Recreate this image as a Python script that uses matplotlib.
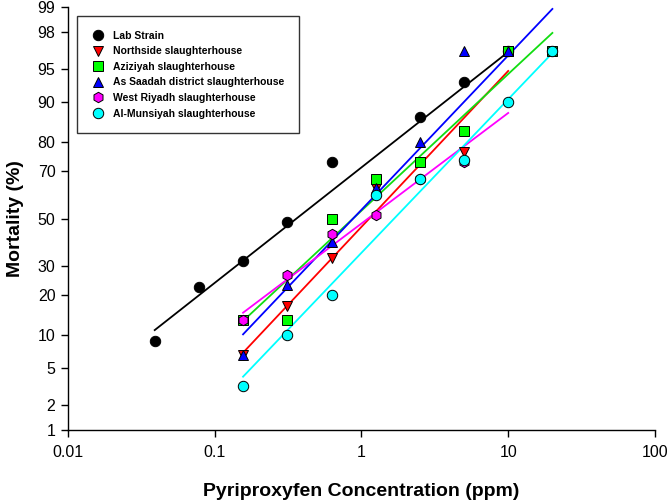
#!/usr/bin/env python3
"""Probit plot of mortality vs pyriproxyfen concentration for six strains."""

from statistics import NormalDist

import matplotlib

matplotlib.use("Agg")
import matplotlib.pyplot as plt
import numpy as np

nan = np.nan

CONC = [0.039, 0.078, 0.156, 0.3125, 0.625, 1.25, 2.5, 5, 10, 20]

LAB = [8.9, 22.5, 32.0, 48.5, 73.3, nan, 86.7, 93.3, 96.7, nan]
NORTHSIDE = [nan, nan, 6.7, 16.7, 33.3, 63.3, 73.3, 76.7, 96.7, nan]
AZIZIYAH = [nan, nan, 13.3, 13.3, 50.0, 66.7, 73.3, 83.3, 96.7, 96.7]
AS_SAADAH = [nan, nan, 6.7, 23.3, 40.0, 63.3, 80.0, 96.7, 96.7, nan]
WEST_RIYADH = [nan, nan, 13.3, 26.7, 43.3, 51.7, 66.7, 73.3, nan, nan]
AL_MUNSIYAH = [nan, nan, 3.3, 10.0, 20.0, 60.0, 66.7, 74.0, 90.0, 96.7]

# probit regression lines: probit = intercept + slope * log10(conc)
INTERCEPTS = [0.562, -0.092, 0.086, 0.096, -0.055, -0.377]
SLOPES = [1.270, 1.715, 1.503, 1.698, 1.216, 1.689]
FIT_RANGE = [(0.039, 10), (0.156, 10), (0.156, 20), (0.156, 20), (0.156, 10), (0.156, 20)]

LABELS = [
    "Lab Strain",
    "Northside slaughterhouse",
    "Aziziyah slaughterhouse",
    "As Saadah district slaughterhouse",
    "West Riyadh slaughterhouse",
    "Al-Munsiyah slaughterhouse",
]
SERIES = [LAB, NORTHSIDE, AZIZIYAH, AS_SAADAH, WEST_RIYADH, AL_MUNSIYAH]
MARKERS = ["o", "v", "s", "^", "h", "o"]
FACE = ["#000000", "#FF0000", "#00FF00", "#0000FF", "#FF00FF", "#00FFFF"]
LINE = ["#000000", "#FF0000", "#11DD11", "#0000FF", "#FF00FF", "#00FFFF"]

Y_TICKS = [1, 2, 5, 10, 20, 30, 50, 70, 80, 90, 95, 98, 99]

_nd = NormalDist()
_ppf = np.vectorize(_nd.inv_cdf, otypes=[float])
_cdf = np.vectorize(_nd.cdf, otypes=[float])


def _fwd(y):
    p = np.clip(np.asarray(y, dtype=float) / 100.0, 1e-9, 1 - 1e-9)
    return _ppf(p)


def _inv(z):
    return 100.0 * _cdf(np.asarray(z, dtype=float))


plt.rcParams.update(
    {
        "font.family": "sans-serif",
        "font.sans-serif": ["Liberation Sans", "DejaVu Sans"],
    }
)

fig = plt.figure(figsize=(6.69, 5.01), dpi=100)
ax = fig.add_axes([0.1016, 0.1417, 0.8774, 0.8443])
ax.set_xscale("log")
ax.set_yscale("function", functions=(_fwd, _inv))

for i, label in enumerate(LABELS):
    lo, hi = FIT_RANGE[i]
    xs = np.logspace(np.log10(lo), np.log10(hi), 20)
    ys = _inv(INTERCEPTS[i] + SLOPES[i] * np.log10(xs))
    ax.plot(xs, ys, color=LINE[i], lw=1.3, zorder=2)

handles = []
for i, label in enumerate(LABELS):
    h, = ax.plot(
        CONC,
        SERIES[i],
        linestyle="none",
        marker=MARKERS[i],
        markersize=7.5 if MARKERS[i] != "s" else 7,
        markerfacecolor=FACE[i],
        markeredgecolor="#000000",
        markeredgewidth=0.7,
        label=label,
        zorder=3 + i,
    )
    handles.append(h)

ax.set_xlim(0.01, 100)
ax.set_ylim(1, 99)
ax.set_yticks(Y_TICKS)
ax.set_yticklabels([str(t) for t in Y_TICKS])
ax.yaxis.set_minor_locator(matplotlib.ticker.NullLocator())
ax.set_xticks([0.01, 0.1, 1, 10, 100])
ax.set_xticklabels(["0.01", "0.1", "1", "10", "100"])
ax.xaxis.set_minor_locator(matplotlib.ticker.NullLocator())

ax.spines["top"].set_visible(False)
ax.spines["right"].set_visible(False)
ax.spines["left"].set_linewidth(1.0)
ax.spines["bottom"].set_linewidth(1.0)
ax.tick_params(axis="both", direction="out", length=5, width=1.0, labelsize=11.5, pad=4)
ax.tick_params(axis="x", pad=6)

ax.set_xlabel("Pyriproxyfen Concentration (ppm)", fontsize=14, fontweight="bold", labelpad=16)
ax.set_ylabel("Mortality (%)", fontsize=14, fontweight="bold", labelpad=10)

leg = ax.legend(
    handles,
    LABELS,
    loc="upper left",
    bbox_to_anchor=(0.015, 0.978),
    frameon=True,
    fancybox=False,
    prop={"weight": "bold", "size": 7.5},
    handletextpad=0.75,
    labelspacing=0.53,
    borderpad=1.4,
    borderaxespad=0.0,
    handlelength=1.3,
)
leg.get_frame().set_edgecolor("#000000")
leg.get_frame().set_linewidth(1.0)

fig.savefig("out.png", dpi=100)
